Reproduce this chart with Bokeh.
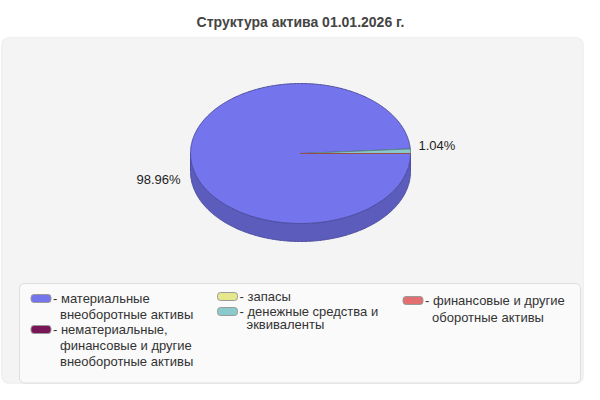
import numpy as np
from bokeh.plotting import figure
from bokeh.models import Range1d, BoxAnnotation
from bokeh.core.properties import value
from bokeh.embed import file_html
from bokeh.resources import INLINE

# ---------------- data ----------------
title = "Структура актива 01.01.2026 г."
categories = [
    "материальные\nвнеоборотные активы",
    "нематериальные,\nфинансовые и другие\nвнеоборотные активы",
    "запасы",
    "денежные средства и\nэквиваленты",
    "финансовые и другие\nоборотные активы",
]
values = [98.96, 0.0, 0.0, 1.04, 0.002]
colors = ["#7474ec", "#771556", "#e6e68c", "#8acaca", "#e27070"]

# ---------------- helpers ----------------
def shade(hexcol, f):
    h = hexcol.lstrip("#")
    r, g, b = (int(h[i:i + 2], 16) for i in (0, 2, 4))
    return "#%02x%02x%02x" % (int(r * f), int(g * f), int(b * f))

FONT = value("Liberation Sans")
W, H = 584, 384
p = figure(width=W, height=H, x_range=Range1d(0, W), y_range=Range1d(H, 0),
           output_backend="svg", toolbar_location=None, min_border=0,
           x_axis_location=None, y_axis_location=None)
p.grid.visible = False
p.outline_line_color = None
p.background_fill_color = "white"
p.border_fill_color = "white"

# outer panel
p.add_layout(BoxAnnotation(left=1, right=583, top=37, bottom=383,
                           fill_color="#f4f4f4", fill_alpha=1, line_color="#dedede",
                           line_width=1.5, border_radius=8, level="underlay"))
# legend box
p.add_layout(BoxAnnotation(left=19, right=580, top=283, bottom=382.5,
                           fill_color="#fafafa", fill_alpha=1, line_color="#a6a6a6",
                           line_width=1, border_radius=5, level="underlay"))

# title
p.text(x=[300], y=[21], text=[title], text_font=FONT, text_font_size="14px",
       text_font_style="bold", text_color="#444444", text_align="center",
       text_baseline="middle")

# ---------------- 3D pie ----------------
cx, cy, rx, ry, depth = 300.0, 153.0, 110.0, 70.0, 18.0
vals = np.array(values, dtype=float)
frac = vals / vals.sum()
ends = np.cumsum(frac) * 2 * np.pi
starts = ends - frac * 2 * np.pi

side_xs, side_ys, side_fc, side_lc = [], [], [], []
top_xs, top_ys, top_fc, top_lc = [], [], [], []
for i in range(len(vals)):
    if vals[i] <= 0:
        continue
    a0, a1 = starts[i], ends[i]
    # front (visible) side: screen angle in [0, pi] (+2pi periodic)
    for off in (0.0, 2 * np.pi):
        s, e = max(a0, off), min(a1, off + np.pi)
        if e > s:
            t = np.linspace(s, e, max(2, int((e - s) * 80)))
            xs_top = cx + rx * np.cos(t)
            ys_top = cy + ry * np.sin(t)
            side_xs.append(list(xs_top) + list(xs_top[::-1]))
            side_ys.append(list(ys_top) + list((ys_top + depth)[::-1]))
            side_fc.append(shade(colors[i], 0.8))
            side_lc.append(shade(colors[i], 0.68))
    t = np.linspace(a0, a1, max(2, int((a1 - a0) * 80)))
    top_xs.append([cx] + list(cx + rx * np.cos(t)) + [cx])
    top_ys.append([cy] + list(cy + ry * np.sin(t)) + [cy])
    top_fc.append(colors[i])
    top_lc.append(shade(colors[i], 0.68))

p.patches(xs=side_xs, ys=side_ys, fill_color=side_fc, line_color=side_lc, line_width=1)
p.patches(xs=top_xs, ys=top_ys, fill_color=top_fc, line_color=top_lc, line_width=1)

# percentage labels
lx, ly, lt, la = [], [], [], []
for i in range(len(vals)):
    pct = frac[i] * 100
    if pct < 0.01:
        continue
    m = (starts[i] + ends[i]) / 2
    c, s = np.cos(m), np.sin(m)
    if c < 0:
        lx.append(cx + (rx + 10) * c)
        ly.append(cy + ry * s + depth + 6)
        la.append("right")
    else:
        lx.append(cx + (rx + 8) * c)
        ly.append(cy + ry * s - 6)
        la.append("left")
    lt.append("%.2f%%" % pct)
p.text(x=lx, y=ly, text=lt, text_align=la, text_baseline="middle",
       text_font=FONT, text_font_size="13px", text_color="#222222")

# ---------------- legend ----------------
col_x = [30.5, 217, 402.5]
col_lh = [16, 13, 17]
entry_col = [0, 0, 1, 1, 2]
entry_y0 = [298, 329, 296, 311, 300]
sw_x, sw_y, sw_c = [], [], []
tx, ty, tt = [], [], []
for i, cat in enumerate(categories):
    c = entry_col[i]
    x0 = col_x[c]
    y0 = entry_y0[i]
    sw_x.append(x0 + 10)
    sw_y.append(y0)
    sw_c.append(colors[i])
    for k, line in enumerate(cat.split("\n")):
        if k == 0:
            tx.append(x0 + 22)
            tt.append("- " + line)
        else:
            tx.append(x0 + 29)
            tt.append(line)
        ty.append(y0 + k * col_lh[c])

try:
    p.rect(x=sw_x, y=sw_y, width=20, height=8, fill_color=sw_c, line_color="#9a9a9a",
           line_width=1, border_radius=3)
except AttributeError:
    p.rect(x=sw_x, y=sw_y, width=20, height=8, fill_color=sw_c, line_color="#9a9a9a",
           line_width=1)
p.text(x=tx, y=ty, text=tt, text_baseline="middle", text_align="left",
       text_font=FONT, text_font_size="13px", text_color="#333333")

open("out.html", "w").write(file_html(p, INLINE))
